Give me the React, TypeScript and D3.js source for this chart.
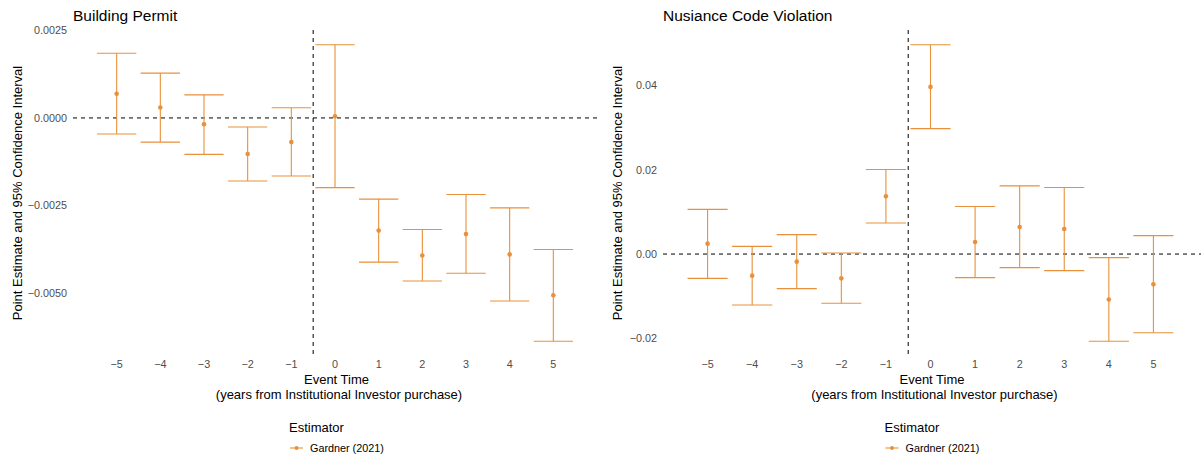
import React from "react";
import * as d3 from "d3";

// event time (years from Institutional Investor purchase)
const eventTimes = [-5, -4, -3, -2, -1, 0, 1, 2, 3, 4, 5];

// Building Permit estimates and 95% CI
const permitEst = [0.00069, 0.0003, -0.00018, -0.00103, -0.00069, 0.00005, -0.00322, -0.00393, -0.00332, -0.0039, -0.00507];
const permitHigh = [0.00185, 0.00128, 0.00066, -0.00026, 0.00029, 0.00209, -0.00232, -0.00319, -0.00219, -0.00257, -0.00376];
const permitLow = [-0.00046, -0.00069, -0.00104, -0.0018, -0.00166, -0.00199, -0.00412, -0.00466, -0.00444, -0.00523, -0.00638];
const permitTicks = [0.0025, 0, -0.0025, -0.005];

// Nusiance Code Violation estimates and 95% CI
const nuisEst = [0.00247, -0.00513, -0.00181, -0.00577, 0.0137, 0.0397, 0.00285, 0.00641, 0.00594, -0.0108, -0.0072];
const nuisHigh = [0.0106, 0.00183, 0.00461, 0.00024, 0.0201, 0.0497, 0.0113, 0.0162, 0.0158, -0.00086, 0.00437];
const nuisLow = [-0.00577, -0.0121, -0.00822, -0.0117, 0.00736, 0.0298, -0.0056, -0.00323, -0.00394, -0.0207, -0.0187];
const nuisTicks = [0.04, 0.02, 0, -0.02];

const COLOR = "#E8913A";
const FONT = "'Liberation Sans', Arial, Helvetica, sans-serif";
const W = 1203;
const H = 462;

interface PanelProps {
  title: string;
  est: number[];
  low: number[];
  high: number[];
  ticks: number[];
  fmt: string;
  left: number;
  right: number;
  yTitleX: number;
}

function Panel({ title, est, low, high, ticks, fmt, left, right, yTitleX }: PanelProps) {
  const top = 30;
  const bottom = 356;

  const x = d3.scaleLinear().domain([-6, 6]).range([left, right]);

  // ggplot-like 5% expansion of the data range
  const lo = d3.min(low) as number;
  const hi = d3.max(high) as number;
  const pad = (hi - lo) * 0.05;
  const y = d3.scaleLinear().domain([lo - pad, hi + pad]).range([bottom, top]);

  const f = d3.format(fmt);
  const xf = d3.format("d");
  const cap = x(0.45) - x(0);
  const mid = (left + right) / 2;
  const rows = eventTimes.map((t, i) => ({ t, e: est[i], l: low[i], h: high[i] }));

  return (
    <g>
      <text x={left} y={20.5} fontSize={15.5} fill="#000">{title}</text>

      {/* y axis labels */}
      {ticks.map(t => (
        <text key={t} x={left - 6} y={y(t)} dy="0.35em" textAnchor="end" fontSize={10.8} fill="#4D4D4D">
          {f(t)}
        </text>
      ))}
      <text
        transform={`translate(${yTitleX},${(top + bottom) / 2}) rotate(-90)`}
        textAnchor="middle"
        fontSize={13}
        fill="#000"
      >
        Point Estimate and 95% Confidence Interval
      </text>

      {/* reference lines */}
      <line x1={left} x2={right + 3} y1={y(0)} y2={y(0)} stroke="#000" strokeWidth={1} strokeDasharray="4 4" />
      <line x1={x(-0.5)} x2={x(-0.5)} y1={top} y2={bottom} stroke="#000" strokeWidth={1} strokeDasharray="4 4" />

      {/* error bars */}
      {rows.map(d => (
        <g key={d.t} stroke={COLOR} strokeWidth={1.1}>
          <line x1={x(d.t)} x2={x(d.t)} y1={y(d.h)} y2={y(d.l)} />
          <line x1={x(d.t) - cap} x2={x(d.t) + cap} y1={y(d.h)} y2={y(d.h)} />
          <line x1={x(d.t) - cap} x2={x(d.t) + cap} y1={y(d.l)} y2={y(d.l)} />
          <circle cx={x(d.t)} cy={y(d.e)} r={2.3} fill={COLOR} stroke="none" />
        </g>
      ))}

      {/* x axis labels */}
      {eventTimes.map(t => (
        <text key={t} x={x(t)} y={368} textAnchor="middle" fontSize={10.8} fill="#4D4D4D">
          {xf(t)}
        </text>
      ))}
      <text x={mid + 1.5} y={384} textAnchor="middle" fontSize={13} fill="#000">Event Time</text>
      <text x={mid + 4} y={399} textAnchor="middle" fontSize={13} fill="#000">
        (years from Institutional Investor purchase)
      </text>

      {/* legend */}
      <text x={mid - 46} y={432} fontSize={13} fill="#000">Estimator</text>
      <line x1={mid - 45} x2={mid - 32} y1={448} y2={448} stroke={COLOR} strokeWidth={1.1} />
      <circle cx={mid - 38.5} cy={448} r={2} fill={COLOR} />
      <text x={mid - 25} y={452} fontSize={10.8} fill="#000">Gardner (2021)</text>
    </g>
  );
}

export default function App() {
  return (
    <svg
      width={W}
      height={H}
      style={{ position: "absolute", left: 0, top: 0, background: "#fff", fontFamily: FONT }}
    >
      <Panel
        title="Building Permit"
        est={permitEst}
        low={permitLow}
        high={permitHigh}
        ticks={permitTicks}
        fmt=".4f"
        left={73}
        right={597}
        yTitleX={22}
      />
      <Panel
        title="Nusiance Code Violation"
        est={nuisEst}
        low={nuisLow}
        high={nuisHigh}
        ticks={nuisTicks}
        fmt=".2f"
        left={663}
        right={1198}
        yTitleX={622}
      />
    </svg>
  );
}
